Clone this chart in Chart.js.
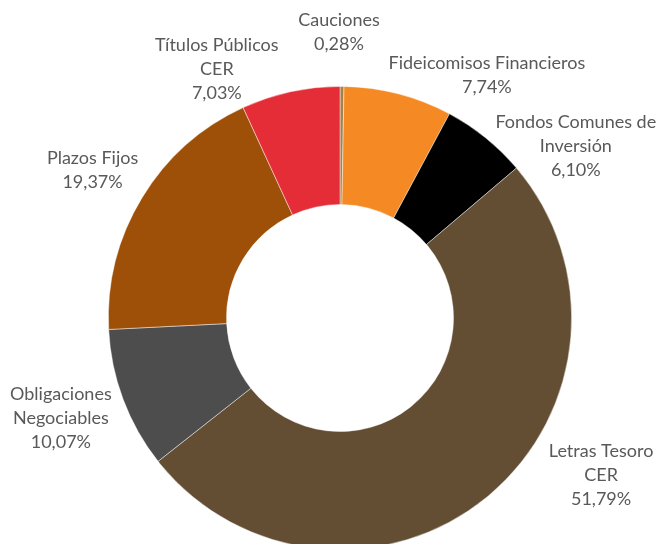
<!DOCTYPE html>
<html lang="es">
<head>
    <meta charset="UTF-8">
    <title>Cartera</title>
    <script src="https://cdn.jsdelivr.net/npm/chart.js"></script>
    <style>
        html, body { margin: 0; padding: 0; background: #fff; overflow: hidden; }
        .chart-wrapper { width: 658px; height: 600px; position: relative; }
    </style>
</head>
<body>
    <div class="chart-wrapper"><canvas id="chart"></canvas></div>

    <script>
        // datos
        const labels = [
            ["Cauciones"],
            ["Fideicomisos Financieros"],
            ["Fondos Comunes de", "Inversión"],
            ["Letras Tesoro", "CER"],
            ["Obligaciones", "Negociables"],
            ["Plazos Fijos"],
            ["Títulos Públicos", "CER"]
        ];
        const values = [0.28, 7.74, 6.10, 51.79, 10.07, 19.37, 7.03];
        const colors = ["#A8804A", "#F58A24", "#000000", "#634E33", "#4D4D4D", "#9E5009", "#E52D37"];

        // where each label sits: angle from top (deg) and distance in outer radii
        const labelAngle = [359.8, 31.2, 53.9, 121, 250.3, 300.9, 333.7];
        const labelDist = [1.233, 1.224, 1.26, 1.315, 1.28, 1.245, 1.2];

        const fmt = v => v.toFixed(2).replace('.', ',') + '%';

        const outsideLabels = {
            id: 'outsideLabels',
            afterDraw(chart) {
                const arc = chart.getDatasetMeta(0).data[0];
                if (!arc) return;
                const { x: cx, y: cy, outerRadius } = arc.getProps(['x', 'y', 'outerRadius'], true);
                const ctx = chart.ctx;
                const lh = 24;
                ctx.save();
                ctx.font = '18px Lato';
                ctx.fillStyle = '#595959';
                ctx.textAlign = 'center';
                ctx.textBaseline = 'middle';
                labels.forEach((lines, i) => {
                    const all = lines.concat([fmt(values[i])]);
                    const a = labelAngle[i] * Math.PI / 180;
                    const r = outerRadius * labelDist[i];
                    const x = cx + r * Math.sin(a);
                    const y = cy - r * Math.cos(a);
                    const top = y - (all.length - 1) * lh / 2;
                    all.forEach((t, j) => ctx.fillText(t, x, top + j * lh));
                });
                ctx.restore();
            }
        };

        new Chart(document.getElementById('chart'), {
            type: 'doughnut',
            data: {
                labels: labels.map(l => l.join(' ')),
                datasets: [{
                    data: values,
                    backgroundColor: colors,
                    borderColor: 'rgba(255,255,255,0.6)',
                    borderWidth: 0.75
                }]
            },
            options: {
                responsive: true,
                maintainAspectRatio: false,
                animation: false,
                cutout: '49%',
                layout: { padding: { top: 86, bottom: 50, left: 108, right: 86 } },
                plugins: {
                    legend: { display: false },
                    tooltip: { enabled: false }
                }
            },
            plugins: [outsideLabels]
        });
    </script>
</body>
</html>
